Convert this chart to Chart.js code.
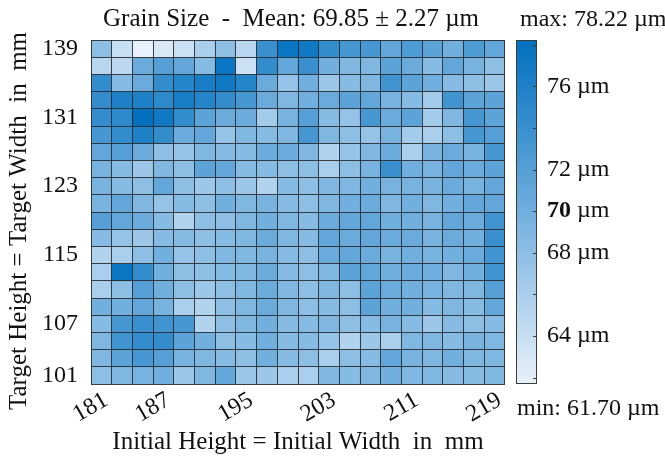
<!DOCTYPE html>
<html>
<head>
<meta charset="utf-8">
<script src="https://cdn.jsdelivr.net/npm/chart.js@4/dist/chart.umd.min.js"></script>
<style>
  html, body { margin: 0; padding: 0; background: #fff; }
  #wrap { position: relative; width: 665px; height: 457px; }
</style>
</head>
<body>
<div id="wrap"><canvas id="heat"></canvas></div>
<script>
// Initial height = width (columns) and target height = width (rows, top to bottom)
const xLabels = [181, 183, 185, 187, 189, 191, 193, 195, 197, 199, 201, 203, 205, 207, 209, 211, 213, 215, 217, 219];
const yLabels = [139, 137, 135, 133, 131, 129, 127, 125, 123, 121, 119, 117, 115, 113, 111, 109, 107, 105, 103, 101];
const xTickShow = [181, 187, 195, 203, 211, 219];
const yTickShow = [101, 107, 115, 123, 131, 139];

// grain size in µm, one array per target size
const r139 = [68, 64, 61.70, 62.8, 63.8, 66, 68, 65, 74, 77.5, 77, 74.5, 73, 73, 71, 72.5, 71.5, 70, 72.5, 71];
const r137 = [65, 64.8, 70.5, 72, 71, 68.5, 77.5, 63.8, 74.5, 71, 74, 70, 69, 69, 71.5, 70.5, 68.5, 71, 69.5, 68];
const r135 = [74.5, 68.5, 70.5, 74.5, 75.5, 76.5, 77, 75.5, 70.5, 67.5, 70, 67, 68.5, 69, 73.5, 71.5, 70, 68.5, 68, 67];
const r133 = [74.5, 76, 76, 75, 76.5, 75.5, 74.5, 73, 70.5, 69, 70, 70.5, 71.5, 71, 69.5, 68.5, 66.5, 73.5, 71.5, 71.5];
const r131 = [74.5, 75, 78.22, 77, 74.5, 71.5, 70.5, 70.5, 66.5, 69.5, 72, 68.5, 67.5, 73, 70.5, 71.5, 66.5, 69, 73, 71.5];
const r129 = [73, 74.5, 76, 74.5, 70.5, 71, 67.5, 69, 68.5, 69, 73, 69, 68, 67.5, 69.5, 66.5, 66, 68, 73, 72];
const r127 = [71, 72, 70.5, 68, 67.5, 69, 68.5, 68.5, 70.5, 70.5, 69, 65.5, 67.5, 69, 70.5, 66, 69.5, 70.5, 69.5, 73];
const r125 = [69.5, 68.5, 67, 69, 68, 71.5, 71, 68.5, 68.5, 68, 68, 66, 68, 69.5, 74, 70, 69.5, 71, 70.5, 71.5];
const r123 = [69.5, 68.5, 68, 71, 68, 67, 68, 67, 65.5, 68.5, 68, 69, 69, 70, 69.5, 69.5, 69.5, 70.5, 69.5, 71];
const r121 = [69.5, 71, 69, 67.5, 68.5, 68, 70, 69, 69.5, 68.5, 68, 69, 70, 70.5, 69, 70, 69, 70, 71, 71];
const r119 = [72, 71, 70.5, 68.5, 65.5, 68, 68, 69, 70, 69, 68.5, 70.5, 71, 71, 70, 70, 69.5, 71, 70.5, 73.5];
const r117 = [68.5, 67.5, 67, 68.5, 68.5, 68, 68.5, 69, 70.5, 69, 68.5, 71, 70.5, 71, 70.5, 70.5, 69.5, 70.5, 70, 74];
const r115 = [65.5, 66, 68, 70, 67.5, 68, 69, 69, 69.5, 68.5, 68, 70.5, 71, 70.5, 69.5, 70, 69.5, 70, 70.5, 73.5];
const r113 = [66, 77.5, 74.5, 70, 68, 68, 68.5, 69, 70.5, 68.5, 68, 69, 71.5, 71, 70, 70.5, 70, 69, 70, 73.5];
const r111 = [66, 68, 72, 70, 68, 67, 68, 69, 70.5, 69, 68, 69, 68, 71.5, 70.5, 70, 69.5, 69, 69, 72];
const r109 = [70, 70, 71, 69.5, 66, 65.5, 68, 69, 70.5, 69, 68, 68.5, 68, 71.5, 70, 70, 68.5, 69, 68.5, 71];
const r107 = [68.5, 73, 74, 73.5, 73, 65.5, 68, 69, 70, 68.5, 68.5, 69, 68, 68.5, 69.5, 68.5, 67, 68.5, 68, 68.5];
const r105 = [69, 73.5, 74.5, 74.5, 71.5, 70, 68, 68.5, 70, 68.5, 68.5, 67.5, 65.5, 67, 66, 69, 69, 68.5, 69.5, 69];
const r103 = [69, 71.5, 73, 72, 69.5, 69, 68.5, 68, 70, 68.5, 68, 66, 68, 68.5, 71, 69.5, 69, 70, 69, 69];
const r101 = [68, 69, 69.5, 70, 67, 69, 71, 67, 67, 66, 66, 69, 68.5, 69, 70, 69, 69, 68.5, 68.5, 69];
const rows = [r139, r137, r135, r133, r131, r129, r127, r125, r123, r121,
              r119, r117, r115, r113, r111, r109, r107, r105, r103, r101];

const vMin = 61.70, vMax = 78.22;
const meanText = "Mean: 69.85 ± 2.27 µm";
const cbTicks = [62, 64, 66, 68, 70, 72, 74, 76, 78];
const cbLabels = [64, 68, 70, 72, 76];

const FONT = "'Liberation Serif', 'Times New Roman', serif";
// colour map stops (light -> dark blue)
const cmap = [[0, [232, 241, 251]], [0.5, [113, 175, 222]], [1, [0, 112, 190]]];

function colorFor(v) {
  let t = (v - vMin) / (vMax - vMin);
  t = Math.max(0, Math.min(1, t));
  let k = t <= cmap[1][0] ? 0 : 1;
  const [t0, c0] = cmap[k], [t1, c1] = cmap[k + 1];
  const f = (t - t0) / (t1 - t0);
  const c = c0.map((a, i) => Math.round(a + (c1[i] - a) * f));
  return `rgb(${c[0]},${c[1]},${c[2]})`;
}

const datasets = rows.map((vals, r) => ({
  label: String(yLabels[r]),
  data: vals.map(() => [yLabels[r] - 1, yLabels[r] + 1]),
  backgroundColor: vals.map(colorFor),
  borderWidth: 0,
  barPercentage: 1,
  categoryPercentage: 1,
  grouped: false
}));

const overlay = {
  id: 'overlay',
  afterDraw(chart) {
    const { ctx, chartArea: a, scales } = chart;
    const cb = scales.cb;
    ctx.save();
    ctx.fillStyle = '#111';
    ctx.textBaseline = 'alphabetic';
    ctx.font = `25px ${FONT}`;
    ctx.textAlign = 'center';
    ctx.fillText('Grain Size  -  ' + meanText, (a.left + a.right) / 2 - 7, 26);
    ctx.font = `24px ${FONT}`;
    ctx.textAlign = 'left';
    ctx.fillText('max: ' + vMax.toFixed(2) + ' µm', a.right + 15, 26);
    ctx.fillText('min: ' + vMin.toFixed(2) + ' µm', a.right + 12, 415);

    // y axis title
    ctx.save();
    ctx.translate(19, (a.top + a.bottom) / 2 + 9);
    ctx.rotate(-Math.PI / 2);
    ctx.textAlign = 'center';
    ctx.textBaseline = 'middle';
    ctx.font = `25px ${FONT}`;
    ctx.fillText('Target Height = Target Width  in  mm', 0, 0);
    ctx.restore();

    // colour bar
    const x0 = a.right + 11, w = 21;
    const top = cb.getPixelForValue(vMax), bot = cb.getPixelForValue(vMin);
    const g = ctx.createLinearGradient(0, bot, 0, top);
    for (let i = 0; i <= 20; i++) {
      g.addColorStop(i / 20, colorFor(vMin + (vMax - vMin) * i / 20));
    }
    ctx.fillStyle = g;
    ctx.fillRect(x0, top, w, bot - top);
    ctx.strokeStyle = '#3c3c3c';
    ctx.lineWidth = 1;
    ctx.strokeRect(x0 + 0.5, top + 0.5, w - 1, bot - top - 1);
    cbTicks.forEach(v => {
      const y = Math.round(cb.getPixelForValue(v)) + 0.5;
      ctx.beginPath();
      ctx.moveTo(x0 + w - 4, y);
      ctx.lineTo(x0 + w, y);
      ctx.stroke();
    });
    ctx.fillStyle = '#111';
    ctx.textBaseline = 'middle';
    cbLabels.forEach(v => {
      const y = cb.getPixelForValue(v);
      const num = String(v);
      ctx.font = (v === 70 ? 'bold ' : '') + `24px ${FONT}`;
      ctx.fillText(num, x0 + 31, y);
      const nw = ctx.measureText(num).width;
      ctx.font = `24px ${FONT}`;
      ctx.fillText(' µm', x0 + 31 + nw, y);
    });
    ctx.restore();
  }
};

const gridColor = 'rgba(40,44,50,0.9)';

new Chart(document.getElementById('heat'), {
  type: 'bar',
  data: { labels: xLabels.map(String), datasets },
  options: {
    responsive: true,
    maintainAspectRatio: false,
    animation: false,
    layout: { padding: { top: 40, right: 160, bottom: 0, left: 0 } },
    plugins: { legend: { display: false }, tooltip: { enabled: false }, title: { display: false } },
    scales: {
      x: {
        type: 'category',
        offset: true,
        grid: { offset: true, color: gridColor, lineWidth: 1, drawTicks: false, z: 1 },
        border: { display: false },
        ticks: {
          autoSkip: false, minRotation: 30, maxRotation: 30, padding: 2, labelOffset: 5,
          color: '#111', font: { family: FONT, size: 24 },
          callback(val, i) { return xTickShow.includes(xLabels[i]) ? String(xLabels[i]) : ''; }
        },
        title: {
          display: true, text: 'Initial Height = Initial Width  in  mm', color: '#111',
          font: { family: FONT, size: 25 }, padding: { top: 0, bottom: 0 }
        },
        afterFit(s) { s.height = 73; }
      },
      y: {
        type: 'linear', position: 'left', min: 100, max: 140,
        grid: { display: false, drawTicks: false },
        border: { display: false },
        afterBuildTicks(s) { s.ticks = yTickShow.map(v => ({ value: v })); },
        ticks: { padding: 13, color: '#111', font: { family: FONT, size: 24 } },
        afterFit(s) { s.width = 91; }
      },
      yg: {
        type: 'linear', position: 'left', min: 100, max: 140,
        grid: { color: gridColor, lineWidth: 1, drawTicks: false, z: 1 },
        border: { display: false },
        ticks: { display: false, stepSize: 2 },
        afterFit(s) { s.width = 0; }
      },
      cb: {
        type: 'linear', position: 'right', min: vMin, max: vMax, display: false
      }
    }
  },
  plugins: [overlay]
});
</script>
</body>
</html>
